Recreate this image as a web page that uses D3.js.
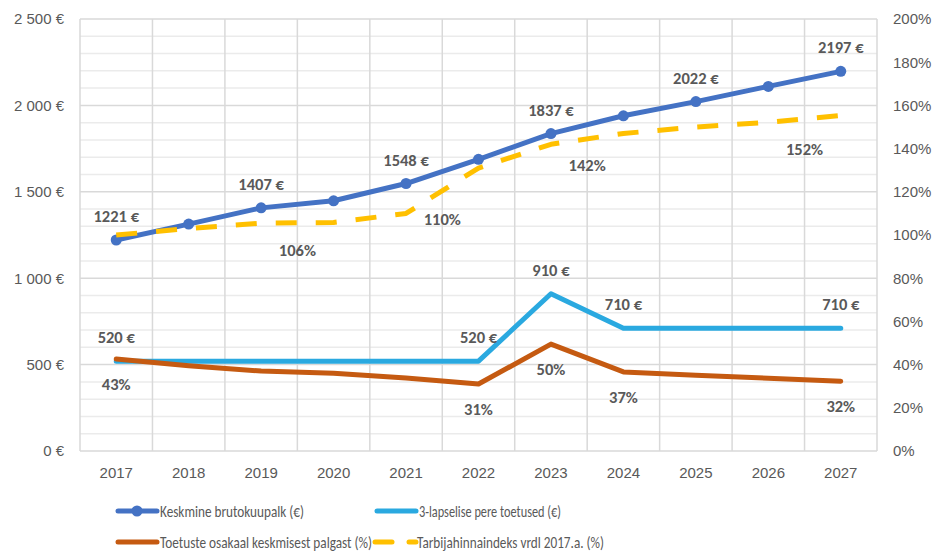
<!DOCTYPE html>
<html><head><meta charset="utf-8">
<script src="https://cdn.jsdelivr.net/npm/d3@7"></script>
<style>
html,body{margin:0;padding:0;background:#fff;}
svg{display:block;font-family:Carlito,Lato,sans-serif;}
</style></head>
<body>
<svg id="c" width="934" height="551"></svg>
<script>
const years = ["2017","2018","2019","2020","2021","2022","2023","2024","2025","2026","2027"];
const wage = [1221,1313,1407,1448,1548,1688,1837,1940,2022,2110,2197];
const support = [520,520,520,520,520,520,910,710,710,710,710];
const sharePct = [0.426,0.395,0.37,0.36,0.338,0.31,0.495,0.366,0.351,0.337,0.323];
const cpiPct = [1.00,1.03,1.055,1.058,1.10,1.31,1.42,1.47,1.50,1.522,1.553];
const leftTicks = [0,500,1000,1500,2000,2500];
const rightTicks = [0,0.2,0.4,0.6,0.8,1.0,1.2,1.4,1.6,1.8,2.0];
const wageLabelIdx = [0,2,4,6,8,10];
const supportLabelIdx = [0,5,6,7,10];
const shareLabelIdx = [0,5,6,7,10];
const cpiLabelIdx = [2,4,6,9];
const cpiLabelDy = [27,6,21,27];
const seriesNames = ["Keskmine brutokuupalk (€)","3-lapselise pere toetused (€)","Toetuste osakaal keskmisest palgast (%)","Tarbijahinnaindeks vrdl 2017.a. (%)"];
const legendTextWidths = [144,142,212,187];

const C = {wage:"#4472C4", support:"#2AA9E0", share:"#C55A11", cpi:"#FFC000", text:"#595959", grid:"#D9D9D9", minor:"#EBEBEB"};
const svg = d3.select("#c");
const L=80,R=877,T=19,B=451;
const x = d3.scaleBand().domain(years).range([L,R]);
const cx = i => x(years[i]) + x.bandwidth()/2;
const yL = d3.scaleLinear().domain([0,2500]).range([B,T]);
const yR = d3.scaleLinear().domain([0,2]).range([B,T]);
const fmtE = v => d3.format(",")(v).replace(/,/g," ") + " €";

// gridlines
const g = svg.append("g");
d3.range(0,2501,100).forEach(v=>{
  if (v%500!==0) g.append("line").attr("x1",L).attr("x2",R).attr("y1",yL(v)).attr("y2",yL(v)).attr("stroke",C.minor).attr("stroke-width",1.5);
});
years.forEach(yv=>{
  g.append("line").attr("x1",x(yv)).attr("x2",x(yv)).attr("y1",T).attr("y2",B).attr("stroke",C.grid).attr("stroke-width",1.5);
});
g.append("line").attr("x1",R).attr("x2",R).attr("y1",T).attr("y2",B).attr("stroke",C.grid).attr("stroke-width",1.5);
leftTicks.forEach(v=>{
  g.append("line").attr("x1",L).attr("x2",R).attr("y1",yL(v)).attr("y2",yL(v)).attr("stroke",C.grid).attr("stroke-width",1.5);
});

// axes
const axL = svg.append("g").attr("transform",`translate(${L},0)`).call(d3.axisLeft(yL).tickValues(leftTicks).tickFormat(fmtE).tickSize(0).tickPadding(16));
const axR = svg.append("g").attr("transform",`translate(${R},0)`).call(d3.axisRight(yR).tickValues(rightTicks).tickFormat(d3.format(".0%")).tickSize(0).tickPadding(16));
const axB = svg.append("g").attr("transform",`translate(0,${B})`).call(d3.axisBottom(x).tickSize(0).tickPadding(16));
[axL,axR,axB].forEach(a=>{a.select(".domain").remove(); a.selectAll("text").attr("fill",C.text).style("font-size","15px").style("font-family",null);});

// lines
const lineStraight = (ys,data)=> d3.line().x((d,i)=>cx(i)).y(d=>ys(d))(data);

svg.append("path").attr("d",lineStraight(yL,wage)).attr("fill","none").attr("stroke",C.wage).attr("stroke-width",5).attr("stroke-linejoin","round").attr("stroke-linecap","round");
svg.selectAll(".wm").data(wage).join("circle").attr("cx",(d,i)=>cx(i)).attr("cy",d=>yL(d)).attr("r",5.5).attr("fill",C.wage);
svg.append("path").attr("d",lineStraight(yL,support)).attr("fill","none").attr("stroke",C.support).attr("stroke-width",5).attr("stroke-linejoin","round").attr("stroke-linecap","round");
svg.append("path").attr("d",lineStraight(yR,sharePct)).attr("fill","none").attr("stroke",C.share).attr("stroke-width",5).attr("stroke-linejoin","round").attr("stroke-linecap","round");
svg.append("path").attr("d",lineStraight(yR,cpiPct)).attr("fill","none").attr("stroke",C.cpi).attr("stroke-width",5).attr("stroke-linejoin","round").attr("stroke-dasharray","21,19");

// data labels
const lab = (px,py,t)=> svg.append("text").attr("x",px).attr("y",py).attr("text-anchor","middle").attr("dominant-baseline","central").attr("fill",C.text).style("font-size","16.5px").style("font-weight","bold").text(t);
wageLabelIdx.forEach(i=>lab(cx(i), yL(wage[i])-24, wage[i]+" €"));
supportLabelIdx.forEach(i=>lab(cx(i), yL(support[i])-24, support[i]+" €"));
shareLabelIdx.forEach(i=>lab(cx(i), yR(sharePct[i])+25, Math.round(sharePct[i]*100)+"%"));
cpiLabelIdx.forEach((i,k)=>lab(cx(i)+x.step()/2, yR(cpiPct[i])+cpiLabelDy[k], Math.round(cpiPct[i]*100)+"%"));

// legend
const leg = svg.append("g");
const items = [
  {c:C.wage, x:118, y:511, marker:true},
  {c:C.support, x:377, y:511},
  {c:C.share, x:118, y:542},
  {c:C.cpi, x:375, y:542, dash:true}
];
items.forEach((it,k)=>{
  if (it.dash) {
    leg.append("line").attr("x1",it.x).attr("x2",it.x+17).attr("y1",it.y).attr("y2",it.y).attr("stroke",it.c).attr("stroke-width",5).attr("stroke-linecap","round");
    leg.append("line").attr("x1",it.x+34).attr("x2",it.x+41).attr("y1",it.y).attr("y2",it.y).attr("stroke",it.c).attr("stroke-width",5).attr("stroke-linecap","round");
  } else {
    leg.append("line").attr("x1",it.x).attr("x2",it.x+39).attr("y1",it.y).attr("y2",it.y).attr("stroke",it.c).attr("stroke-width",5).attr("stroke-linecap","round");
  }
  if (it.marker) leg.append("circle").attr("cx",it.x+19).attr("cy",it.y).attr("r",5.5).attr("fill",it.c);
  leg.append("text").attr("x",it.x+42).attr("y",it.y).attr("dominant-baseline","central").attr("fill",C.text).style("font-size","16.5px")
    .attr("textLength",legendTextWidths[k]).attr("lengthAdjust","spacingAndGlyphs").text(seriesNames[k]);
});
</script>
</body></html>
